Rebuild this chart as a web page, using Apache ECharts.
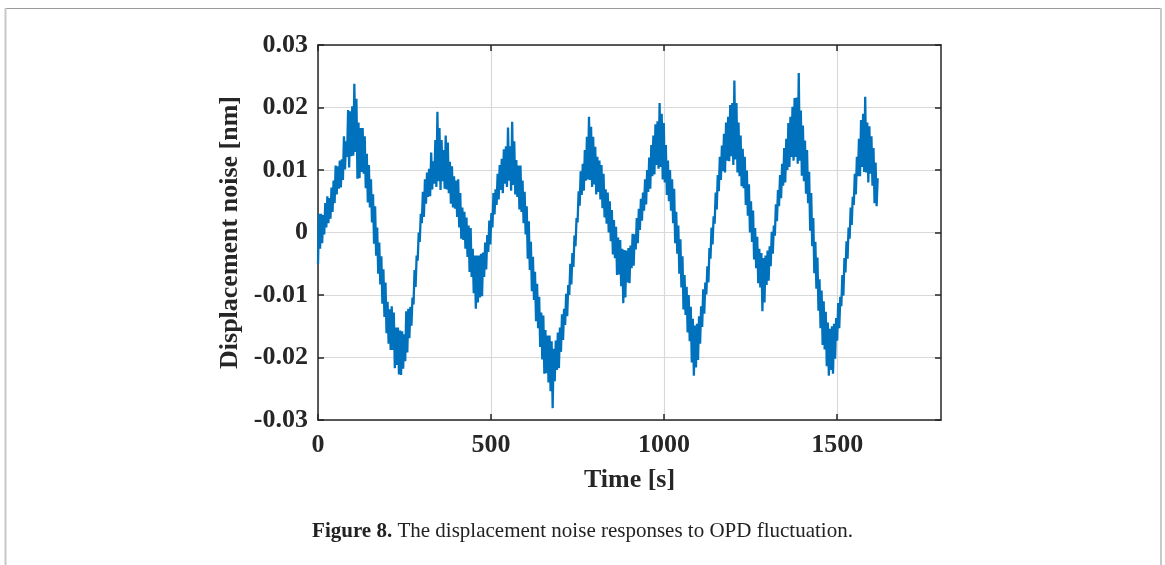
<!DOCTYPE html>
<html>
<head>
<meta charset="utf-8">
<script src="https://cdn.jsdelivr.net/npm/echarts@6/dist/echarts.min.js"></script>
<style>
html,body{margin:0;padding:0;background:#fff;}
#chart{width:1165px;height:565px;}
</style>
</head>
<body>
<div id="chart"></div>
<script>
// Time bins [s]
const times = [0,6,12,18,24,30,36,42,48,54,60,66,72,78,84,90,96,102,108,114,120,126,132,138,144,150,156,162,168,174,180,186,192,198,204,210,216,222,228,234,240,246,252,258,264,270,276,282,288,294,300,306,312,318,324,330,336,342,348,354,360,366,372,378,384,390,396,402,408,414,420,426,432,438,444,450,456,462,468,474,480,486,492,498,504,510,516,522,528,534,540,546,552,558,564,570,576,582,588,594,600,606,612,618,624,630,636,642,648,654,660,666,672,678,684,690,696,702,708,714,720,726,732,738,744,750,756,762,768,774,780,786,792,798,804,810,816,822,828,834,840,846,852,858,864,870,876,882,888,894,900,906,912,918,924,930,936,942,948,954,960,966,972,978,984,990,996,1002,1008,1014,1020,1026,1032,1038,1044,1050,1056,1062,1068,1074,1080,1086,1092,1098,1104,1110,1116,1122,1128,1134,1140,1146,1152,1158,1164,1170,1176,1182,1188,1194,1200,1206,1212,1218,1224,1230,1236,1242,1248,1254,1260,1266,1272,1278,1284,1290,1296,1302,1308,1314,1320,1326,1332,1338,1344,1350,1356,1362,1368,1374,1380,1386,1392,1398,1404,1410,1416,1422,1428,1434,1440,1446,1452,1458,1464,1470,1476,1482,1488,1494,1500,1506,1512,1518,1524,1530,1536,1542,1548,1554,1560,1566,1572,1578,1584,1590,1596,1602,1608,1614];

// Displacement noise [nm], first sample in each bin
const noiseA = [-0.005,0.003,-0.0017,0.0047,0.0008,0.0055,0.0022,0.0083,0.0047,0.0106,0.007,0.0117,0.0084,0.0146,0.0121,0.0194,0.0122,0.0238,0.0129,0.0176,0.0087,0.0167,0.0094,0.0126,0.0048,0.0085,0.0016,0.0042,-0.0037,-0.0016,-0.0083,-0.0059,-0.0135,-0.0111,-0.0178,-0.0118,-0.0188,-0.0152,-0.0212,-0.0157,-0.0228,-0.0163,-0.0206,-0.0122,-0.0169,-0.0104,-0.0115,-0.0037,-0.0045,0.003,0.0015,0.0085,0.0046,0.0102,0.0058,0.0114,0.0078,0.0193,0.0082,0.0148,0.0082,0.0155,0.0069,0.0113,0.0046,0.009,0.0038,0.0085,0.0008,0.004,-0.0012,0.0024,-0.0039,0.0007,-0.0071,-0.0037,-0.0122,-0.0037,-0.0104,-0.0032,-0.0071,-0.0004,-0.0031,0.0031,0.0008,0.0069,0.0044,0.0108,0.0068,0.0133,0.0078,0.0168,0.0083,0.0177,0.0076,0.0116,0.0057,0.0107,0.0033,0.0065,-0.0003,0.0018,-0.006,-0.0039,-0.0108,-0.0082,-0.0153,-0.0128,-0.0203,-0.0156,-0.0225,-0.0165,-0.0254,-0.0281,-0.0173,-0.022,-0.0152,-0.0191,-0.0122,-0.0148,-0.0084,-0.01,-0.0033,-0.0055,0.0023,0.0016,0.0098,0.006,0.0132,0.0083,0.0185,0.0084,0.0153,0.0077,0.0121,0.0065,0.0108,0.0039,0.0069,0.0014,0.005,-0.0014,0.002,-0.0041,-0.0008,-0.0067,-0.0026,-0.0113,-0.0029,-0.008,-0.0021,-0.0057,-0.0003,-0.0027,0.0038,0.0004,0.0064,0.0035,0.01,0.0065,0.014,0.009,0.0173,0.0108,0.0207,0.0105,0.0175,0.008,0.0115,0.005,0.0085,0.0015,0.0033,-0.0034,-0.0011,-0.0088,-0.0068,-0.0132,-0.01,-0.0174,-0.0138,-0.0229,-0.0146,-0.0204,-0.0118,-0.0151,-0.008,-0.0099,-0.0025,-0.0042,0.0026,0.0014,0.0092,0.0066,0.0139,0.0098,0.0176,0.0115,0.0204,0.0122,0.0243,0.0117,0.0176,0.009,0.0134,0.0071,0.0099,0.0027,0.005,-0.0015,0.0007,-0.0057,-0.0026,-0.0088,-0.0126,-0.0037,-0.0084,-0.0022,-0.0054,0.0011,-0.0005,0.0068,0.0042,0.011,0.0075,0.015,0.01,0.0185,0.0121,0.0215,0.0121,0.0255,0.0115,0.0171,0.0082,0.0132,0.0047,0.0063,-0.0022,-0.0015,-0.009,-0.0075,-0.0153,-0.011,-0.0187,-0.0144,-0.0229,-0.015,-0.0226,-0.0137,-0.0173,-0.0103,-0.0118,-0.0041,-0.0064,0.0008,-0.001,0.0057,0.0044,0.0121,0.009,0.018,0.0105,0.0217,0.0096,0.017,0.0094,0.0135,0.0047,0.0087];

// Displacement noise [nm], second sample in each bin
const noiseB = [0.003,-0.0026,0.0028,-0.0003,0.0058,0.0015,0.0072,0.0033,0.0107,0.0061,0.0115,0.0072,0.0154,0.0101,0.0196,0.0104,0.0202,0.0123,0.0214,0.0086,0.0167,0.0097,0.0154,0.0071,0.0108,0.004,0.0061,-0.0018,0.0008,-0.0066,-0.0038,-0.0114,-0.008,-0.0161,-0.0123,-0.0188,-0.0128,-0.0217,-0.0152,-0.0227,-0.0158,-0.0218,-0.0126,-0.0192,-0.0119,-0.0149,-0.006,-0.0087,0,-0.0015,0.0065,0.0025,0.0096,0.0057,0.0128,0.0069,0.0148,0.0073,0.0167,0.0068,0.0132,0.007,0.0144,0.0063,0.0106,0.004,0.0083,0.0025,0.0063,-0.001,0.0033,-0.0026,0.0011,-0.0063,-0.0026,-0.0097,-0.0037,-0.0112,-0.0034,-0.0102,-0.0016,-0.0059,0.0019,-0.0019,0.0063,0.0029,0.0094,0.0053,0.0118,0.0063,0.0138,0.0073,0.0138,0.0067,0.0146,0.0061,0.0107,0.0037,0.0083,0.0015,0.0042,-0.0042,-0.0015,-0.0094,-0.0063,-0.0142,-0.0103,-0.0183,-0.0133,-0.0226,-0.0165,-0.024,-0.0174,-0.0186,-0.0238,-0.016,-0.0217,-0.0131,-0.0172,-0.0098,-0.0134,-0.005,-0.0083,-0.0005,-0.0022,0.0066,0.0043,0.011,0.0067,0.0153,0.0085,0.0169,0.0073,0.0137,0.0061,0.0115,0.0053,0.0094,0.0024,0.0064,0,0.0036,-0.0035,0.0009,-0.0068,-0.0012,-0.0086,-0.0028,-0.0104,-0.0025,-0.0081,-0.0002,-0.0053,0.0023,-0.0017,0.0054,0.0019,0.0085,0.0045,0.012,0.007,0.0155,0.0093,0.0178,0.0102,0.019,0.0085,0.014,0.006,0.01,0.0035,0.007,-0.0017,0.0011,-0.0066,-0.0038,-0.0123,-0.0087,-0.016,-0.0119,-0.0208,-0.0149,-0.0216,-0.0134,-0.0178,-0.0091,-0.013,-0.0054,-0.008,0.0008,-0.0019,0.0064,0.0037,0.0121,0.0084,0.0158,0.0096,0.0185,0.0114,0.0207,0.0108,0.0207,0.0096,0.0155,0.0074,0.0121,0.0044,0.0077,0,0.0035,-0.0043,-0.0007,-0.0081,-0.0033,-0.0041,-0.0112,-0.0029,-0.0077,0.0001,-0.0034,0.0045,0.0018,0.0092,0.0055,0.0135,0.008,0.0175,0.0105,0.0201,0.0115,0.0216,0.011,0.0195,0.0091,0.0147,0.0062,0.0097,0.0003,0.0023,-0.0065,-0.004,-0.0125,-0.0093,-0.018,-0.0127,-0.0214,-0.0154,-0.022,-0.0146,-0.0202,-0.0113,-0.0153,-0.0068,-0.0101,-0.0014,-0.0042,0.004,0.0012,0.0094,0.0061,0.015,0.009,0.019,0.0097,0.0176,0.008,0.0154,0.0075,0.0112,0.0042];

const xTicks = [0, 500, 1000, 1500];

// Each 6 s bin holds two samples, 3 s apart: the low one first, then the high one
const pairs = [];
times.forEach((t, i) => {
  pairs.push([t, Math.min(noiseA[i], noiseB[i])]);
  pairs.push([t + 3, Math.max(noiseA[i], noiseB[i])]);
});

const axisFont = {fontFamily: 'Liberation Serif', fontWeight: 'bold', color: '#262626'};
const boxColor = '#262626';

const chart = echarts.init(document.getElementById('chart'), null, {renderer: 'canvas'});
chart.setOption({
  animation: false,
  backgroundColor: '#ffffff',
  grid: {left: 318, right: 224, top: 45, bottom: 145, show: false},
  xAxis: [{
    type: 'value', min: 0, max: 1800, interval: 500,
    name: 'Time [s]', nameLocation: 'middle', nameGap: 47,
    nameTextStyle: Object.assign({fontSize: 26}, axisFont),
    axisLine: {show: true, onZero: false, lineStyle: {color: boxColor, width: 1.5}},
    axisTick: {show: true, inside: true, length: 6, lineStyle: {color: boxColor, width: 1.5},
               customValues: xTicks},
    axisLabel: Object.assign({fontSize: 26, margin: 12, customValues: xTicks,
      formatter: v => String(v)}, axisFont),
    splitLine: {show: true, lineStyle: {color: '#d9d9d9', width: 1.2}}
  }, {
    type: 'value', min: 0, max: 1800, interval: 500, position: 'top',
    axisLine: {show: true, onZero: false, lineStyle: {color: boxColor, width: 1.5}},
    axisTick: {show: true, inside: true, length: 6, lineStyle: {color: boxColor, width: 1.5},
               customValues: xTicks},
    axisLabel: {show: false},
    splitLine: {show: false}
  }],
  yAxis: [{
    type: 'value', min: -0.03, max: 0.03, interval: 0.01,
    name: 'Displacement noise [nm]', nameLocation: 'middle', nameGap: 66,
    nameTextStyle: Object.assign({fontSize: 26}, axisFont),
    axisLine: {show: true, onZero: false, lineStyle: {color: boxColor, width: 1.5}},
    axisTick: {show: true, inside: true, length: 6, lineStyle: {color: boxColor, width: 1.5}},
    axisLabel: Object.assign({fontSize: 26, margin: 10,
      formatter: v => String(Math.round(v * 100) / 100)}, axisFont),
    splitLine: {show: true, lineStyle: {color: '#d9d9d9', width: 1.2}}
  }, {
    type: 'value', min: -0.03, max: 0.03, interval: 0.01, position: 'right',
    axisLine: {show: true, onZero: false, lineStyle: {color: boxColor, width: 1.5}},
    axisTick: {show: true, inside: true, length: 6, lineStyle: {color: boxColor, width: 1.5}},
    axisLabel: {show: false},
    splitLine: {show: false}
  }],
  series: [{
    type: 'line',
    data: pairs,
    xAxisIndex: 0, yAxisIndex: 0,
    showSymbol: false,
    lineStyle: {color: '#0072BD', width: 2.3},
    itemStyle: {color: '#0072BD'},
    clip: true
  }],
  graphic: [
    {type: 'line', shape: {x1: 5, y1: 8.5, x2: 1161, y2: 8.5}, style: {stroke: '#9a9a9a', lineWidth: 1}},
    {type: 'line', shape: {x1: 5.5, y1: 8, x2: 5.5, y2: 565}, style: {stroke: '#c8c8c8', lineWidth: 2}},
    {type: 'line', shape: {x1: 1161, y1: 8, x2: 1161, y2: 565}, style: {stroke: '#c8c8c8', lineWidth: 2}},
    {type: 'text', left: 'center', top: 521,
     style: {
       text: '{b|Figure 8.} The displacement noise responses to OPD fluctuation.',
       font: '21px "Liberation Serif"', fill: '#222',
       rich: {b: {fontFamily: 'Liberation Serif', fontWeight: 'bold', fontSize: 21, fill: '#222'}}
     }}
  ]
});
</script>
</body>
</html>
